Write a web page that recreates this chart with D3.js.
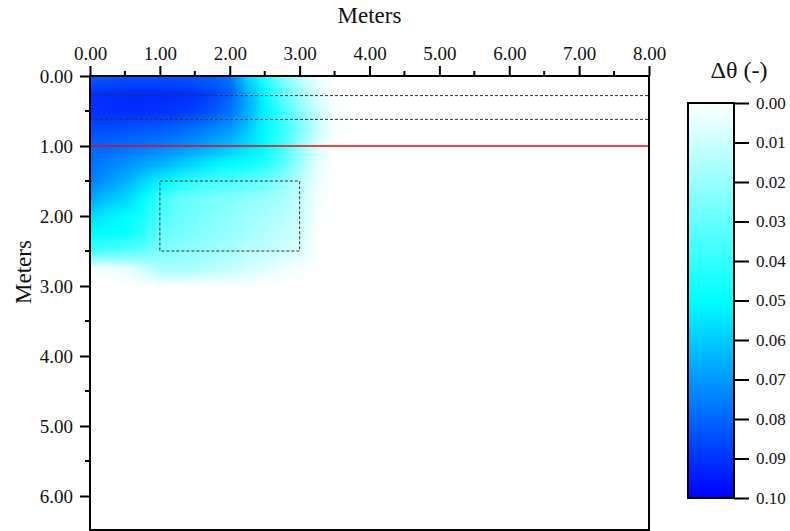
<!DOCTYPE html>
<html>
<head>
<meta charset="utf-8">
<script src="https://cdn.jsdelivr.net/npm/d3@7"></script>
<style>
  body { margin: 0; background: #fff; }
  svg text { font-family: "Liberation Serif", "Times New Roman", serif; fill: #111; }
</style>
</head>
<body>
<svg id="chart" width="790" height="531"></svg>
<script>
// grid of the field (meters)
var xGrid = [0, 0.25, 0.5, 0.75, 1, 1.25, 1.5, 1.75, 2, 2.25, 2.5, 2.75, 3, 3.25, 3.5, 3.75, 4];
var yGrid = [0, 0.25, 0.5, 0.75, 1, 1.25, 1.5, 1.75, 2, 2.25, 2.5, 2.75, 3];

// delta theta, one row per yGrid value
var theta = [
    [0.081, 0.082, 0.083, 0.083, 0.083, 0.083, 0.082, 0.080, 0.077, 0.056, 0.042, 0.025, 0.013, 0.004, 0, 0, 0],
    [0.090, 0.091, 0.092, 0.092, 0.092, 0.091, 0.090, 0.087, 0.081, 0.066, 0.050, 0.032, 0.018, 0.007, 0, 0, 0],
    [0.090, 0.091, 0.091, 0.091, 0.090, 0.089, 0.087, 0.083, 0.077, 0.066, 0.052, 0.038, 0.024, 0.011, 0.002, 0, 0],
    [0.085, 0.085, 0.084, 0.083, 0.082, 0.080, 0.078, 0.074, 0.070, 0.061, 0.050, 0.040, 0.026, 0.011, 0.001, 0, 0],
    [0.080, 0.079, 0.078, 0.077, 0.075, 0.073, 0.070, 0.066, 0.062, 0.056, 0.050, 0.037, 0.022, 0.007, 0, 0, 0],
    [0.078, 0.075, 0.072, 0.068, 0.065, 0.061, 0.057, 0.053, 0.050, 0.047, 0.043, 0.033, 0.019, 0.005, 0, 0, 0],
    [0.075, 0.070, 0.065, 0.058, 0.052, 0.045, 0.040, 0.037, 0.035, 0.032, 0.029, 0.022, 0.013, 0.003, 0, 0, 0],
    [0.067, 0.062, 0.058, 0.050, 0.038, 0.031, 0.028, 0.026, 0.025, 0.022, 0.020, 0.017, 0.012, 0.002, 0, 0, 0],
    [0.057, 0.053, 0.050, 0.046, 0.035, 0.030, 0.027, 0.024, 0.022, 0.019, 0.017, 0.014, 0.010, 0.001, 0, 0, 0],
    [0.050, 0.049, 0.048, 0.042, 0.030, 0.027, 0.025, 0.022, 0.020, 0.017, 0.015, 0.012, 0.009, 0, 0, 0, 0],
    [0.036, 0.034, 0.032, 0.030, 0.025, 0.023, 0.021, 0.019, 0.017, 0.014, 0.012, 0.010, 0.007, 0, 0, 0, 0],
    [0.001, 0.002, 0.004, 0.010, 0.016, 0.017, 0.016, 0.014, 0.012, 0.009, 0.006, 0.003, 0.001, 0, 0, 0, 0],
    [0, 0, 0, 0, 0, 0, 0, 0, 0, 0, 0, 0, 0, 0, 0, 0, 0]
];

var xTicks = [0, 1, 2, 3, 4, 5, 6, 7, 8];
var yTicks = [0, 1, 2, 3, 4, 5, 6];
var cTicks = [0, 0.01, 0.02, 0.03, 0.04, 0.05, 0.06, 0.07, 0.08, 0.09, 0.10];
var dashDepths = [0.28, 0.62];
var redDepth = 1.0;
var box = { x0: 1, x1: 3, y0: 1.5, y1: 2.5 };

var svg = d3.select("#chart");
var x = d3.scaleLinear().domain([0, 8]).range([90, 649]);
var y = d3.scaleLinear().domain([0, 6.5]).range([76, 531]);
var color = d3.scaleLinear().domain([0, 0.05, 0.1]).range(["#ffffff", "#00ffff", "#0000ff"]).clamp(true);

svg.append("defs").append("clipPath").attr("id", "plotClip")
    .append("rect").attr("x", x(0)).attr("y", y(0))
    .attr("width", x(8) - x(0)).attr("height", y(6.5) - y(0));

// raster of the field, smoothed by the browser when scaled up
var nx = xGrid.length, ny = yGrid.length;
var canvas = document.createElement("canvas");
canvas.width = nx;
canvas.height = ny;
var ctx = canvas.getContext("2d");
var img = ctx.createImageData(nx, ny);
for (var j = 0; j < ny; j++) {
    for (var i = 0; i < nx; i++) {
        var c = d3.rgb(color(theta[j][i]));
        var k = (j * nx + i) * 4;
        img.data[k] = c.r;
        img.data[k + 1] = c.g;
        img.data[k + 2] = c.b;
        img.data[k + 3] = 255;
    }
}
ctx.putImageData(img, 0, 0);
var dx = xGrid[1] - xGrid[0], dy = yGrid[1] - yGrid[0];
svg.append("g").attr("clip-path", "url(#plotClip)")
    .append("image")
    .attr("href", canvas.toDataURL())
    .attr("x", x(xGrid[0] - dx / 2))
    .attr("y", y(yGrid[0] - dy / 2))
    .attr("width", x(xGrid[nx - 1] + dx / 2) - x(xGrid[0] - dx / 2))
    .attr("height", y(yGrid[ny - 1] + dy / 2) - y(yGrid[0] - dy / 2))
    .attr("preserveAspectRatio", "none");

// reference lines
svg.selectAll(".dash").data(dashDepths).enter().append("line")
    .attr("x1", x(0)).attr("x2", x(8))
    .attr("y1", function (d) { return y(d); }).attr("y2", function (d) { return y(d); })
    .attr("stroke", "#333").attr("stroke-width", 1).attr("stroke-dasharray", "3,2");
svg.append("line")
    .attr("x1", x(0)).attr("x2", x(8)).attr("y1", y(redDepth)).attr("y2", y(redDepth))
    .attr("stroke", "#ff0000").attr("stroke-width", 1.5);
svg.append("rect")
    .attr("x", x(box.x0)).attr("y", y(box.y0))
    .attr("width", x(box.x1) - x(box.x0)).attr("height", y(box.y1) - y(box.y0))
    .attr("fill", "none").attr("stroke", "#333").attr("stroke-width", 1).attr("stroke-dasharray", "3,2");

// frame
svg.append("rect")
    .attr("x", x(0)).attr("y", y(0))
    .attr("width", x(8) - x(0)).attr("height", 530 - y(0))
    .attr("fill", "none").attr("stroke", "#000").attr("stroke-width", 2);

// axes
var xAxis = d3.axisTop(x).tickValues(xTicks).tickFormat(d3.format(".2f")).tickSize(10).tickPadding(6);
var gx = svg.append("g").attr("transform", "translate(0," + y(0) + ")").call(xAxis);
var yAxis = d3.axisLeft(y).tickValues(yTicks).tickFormat(d3.format(".2f")).tickSize(10).tickPadding(7);
var gy = svg.append("g").attr("transform", "translate(" + x(0) + ",0)").call(yAxis);
[gx, gy].forEach(function (g) {
    g.select(".domain").remove();
    g.selectAll(".tick line").attr("stroke", "#000").attr("stroke-width", 2);
    g.selectAll(".tick text").style("font-size", "19px").attr("fill", "#111");
});
gy.selectAll(".tick text").attr("dy", "0.33em");

// minor ticks
svg.append("g").selectAll("line").data(d3.range(0.5, 8, 1)).enter().append("line")
    .attr("x1", function (d) { return x(d); }).attr("x2", function (d) { return x(d); })
    .attr("y1", y(0)).attr("y2", y(0) - 5).attr("stroke", "#000").attr("stroke-width", 2);
svg.append("g").selectAll("line").data(d3.range(0.5, 6.5, 1)).enter().append("line")
    .attr("y1", function (d) { return y(d); }).attr("y2", function (d) { return y(d); })
    .attr("x1", x(0)).attr("x2", x(0) - 5).attr("stroke", "#000").attr("stroke-width", 2);

// axis titles
svg.append("text").attr("x", (x(0) + x(8)) / 2).attr("y", 23)
    .attr("text-anchor", "middle").style("font-size", "23px").text("Meters");
svg.append("text").attr("transform", "translate(31,272) rotate(-90)")
    .attr("text-anchor", "middle").style("font-size", "23px").text("Meters");

// colour bar
var cb = { x: 688, w: 46 };
var cy = d3.scaleLinear().domain([0, 0.1]).range([103, 498]);
var grad = svg.select("defs").append("linearGradient").attr("id", "cbGrad")
    .attr("x1", 0).attr("y1", 0).attr("x2", 0).attr("y2", 1);
grad.selectAll("stop").data(color.domain()).enter().append("stop")
    .attr("offset", function (d) { return d / 0.1; })
    .attr("stop-color", function (d) { return color(d); });
svg.append("rect").attr("x", cb.x).attr("y", cy(0)).attr("width", cb.w).attr("height", cy(0.1) - cy(0))
    .attr("fill", "url(#cbGrad)").attr("stroke", "#000").attr("stroke-width", 2);
var cAxis = d3.axisRight(cy).tickValues(cTicks).tickFormat(d3.format(".2f")).tickSize(15).tickPadding(7);
var gc = svg.append("g").attr("transform", "translate(" + (cb.x + cb.w) + ",0)").call(cAxis);
gc.select(".domain").remove();
gc.selectAll(".tick line").attr("stroke", "#000").attr("stroke-width", 2);
gc.selectAll(".tick text").style("font-size", "17px").attr("fill", "#111");
svg.append("text").attr("x", 739).attr("y", 78)
    .attr("text-anchor", "middle").style("font-size", "24px").text("Δθ (-)");
</script>
</body>
</html>
